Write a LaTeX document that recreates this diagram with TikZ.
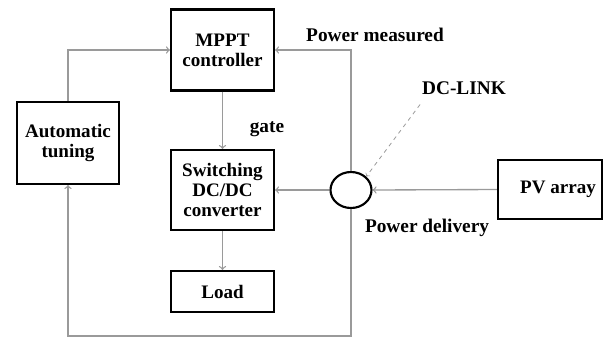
\documentclass[tikz,border=0pt]{standalone}
\usepackage{fontspec}
\setmainfont{Liberation Serif}
\usetikzlibrary{shapes.geometric}
\definecolor{LineGray}{HTML}{9A9A9A}

\tikzset{
    blockbox/.style={draw=black, line width=1.6pt, align=center,
        font=\fontsize{14.3}{15}\selectfont\bfseries, inner sep=1pt},
    flow/.style={draw=LineGray, line width=1pt, ->},
    tag/.style={font=\fontsize{14.5}{15}\selectfont\bfseries}
}

\begin{document}
\begin{tikzpicture}[x=0.75pt, y=-0.75pt]
    \useasboundingbox (0,0) rectangle (607,337);
    % Blocks
    \node[blockbox, minimum width=103*0.75pt, minimum height=81*0.75pt] (mppt) at (222.5,50) {MPPT\\controller};
    \node[blockbox, minimum width=102*0.75pt, minimum height=82*0.75pt] (tune) at (68,143) {Automatic\\tuning};
    \node[blockbox, minimum width=103*0.75pt, minimum height=80*0.75pt] (conv) at (222.5,190) {Switching\\DC/DC\\converter};
    \node[blockbox, minimum width=103*0.75pt, minimum height=41*0.75pt] (load) at (222.5,291.5) {\raisebox{-3pt}{Load}};
    \node[blockbox, minimum width=104*0.75pt, minimum height=59*0.75pt] (pv) at (550,189.5) {\hspace{12pt}PV array};
    \node[draw=black, line width=1.6pt, ellipse, minimum width=41*0.75pt, minimum height=36*0.75pt, inner sep=0pt] (link) at (351,190) {};
    \coordinate (corner) at (351,336);
    % Labels
    \node[tag] (measured) at (375,35) {Power measured};
    \node[tag] (delivery) at (427,228) {Power delivery};
    \node[tag] (gate) at (267,129) {gate};
    \node[tag] (dclabel) at (464,88) {DC-LINK};
    % Connectors
    \draw[flow] (tune.north) |- (mppt.west);
    \draw[flow] (mppt.south) -- (conv.north);
    \draw[flow] (conv.south) -- (load.north);
    \draw[flow] (pv.west) -- (link.east);
    \draw[flow] (link.west) -- (conv.east);
    \draw[flow] (link.north) |- (mppt.east);
    \draw[flow] (link.south) -- (corner) -| (tune.south);
    \draw[flow, dashed, line width=0.6pt] ([xshift=2pt,yshift=-4pt]dclabel.south west) -- (link.north east);
\end{tikzpicture}
\end{document}
